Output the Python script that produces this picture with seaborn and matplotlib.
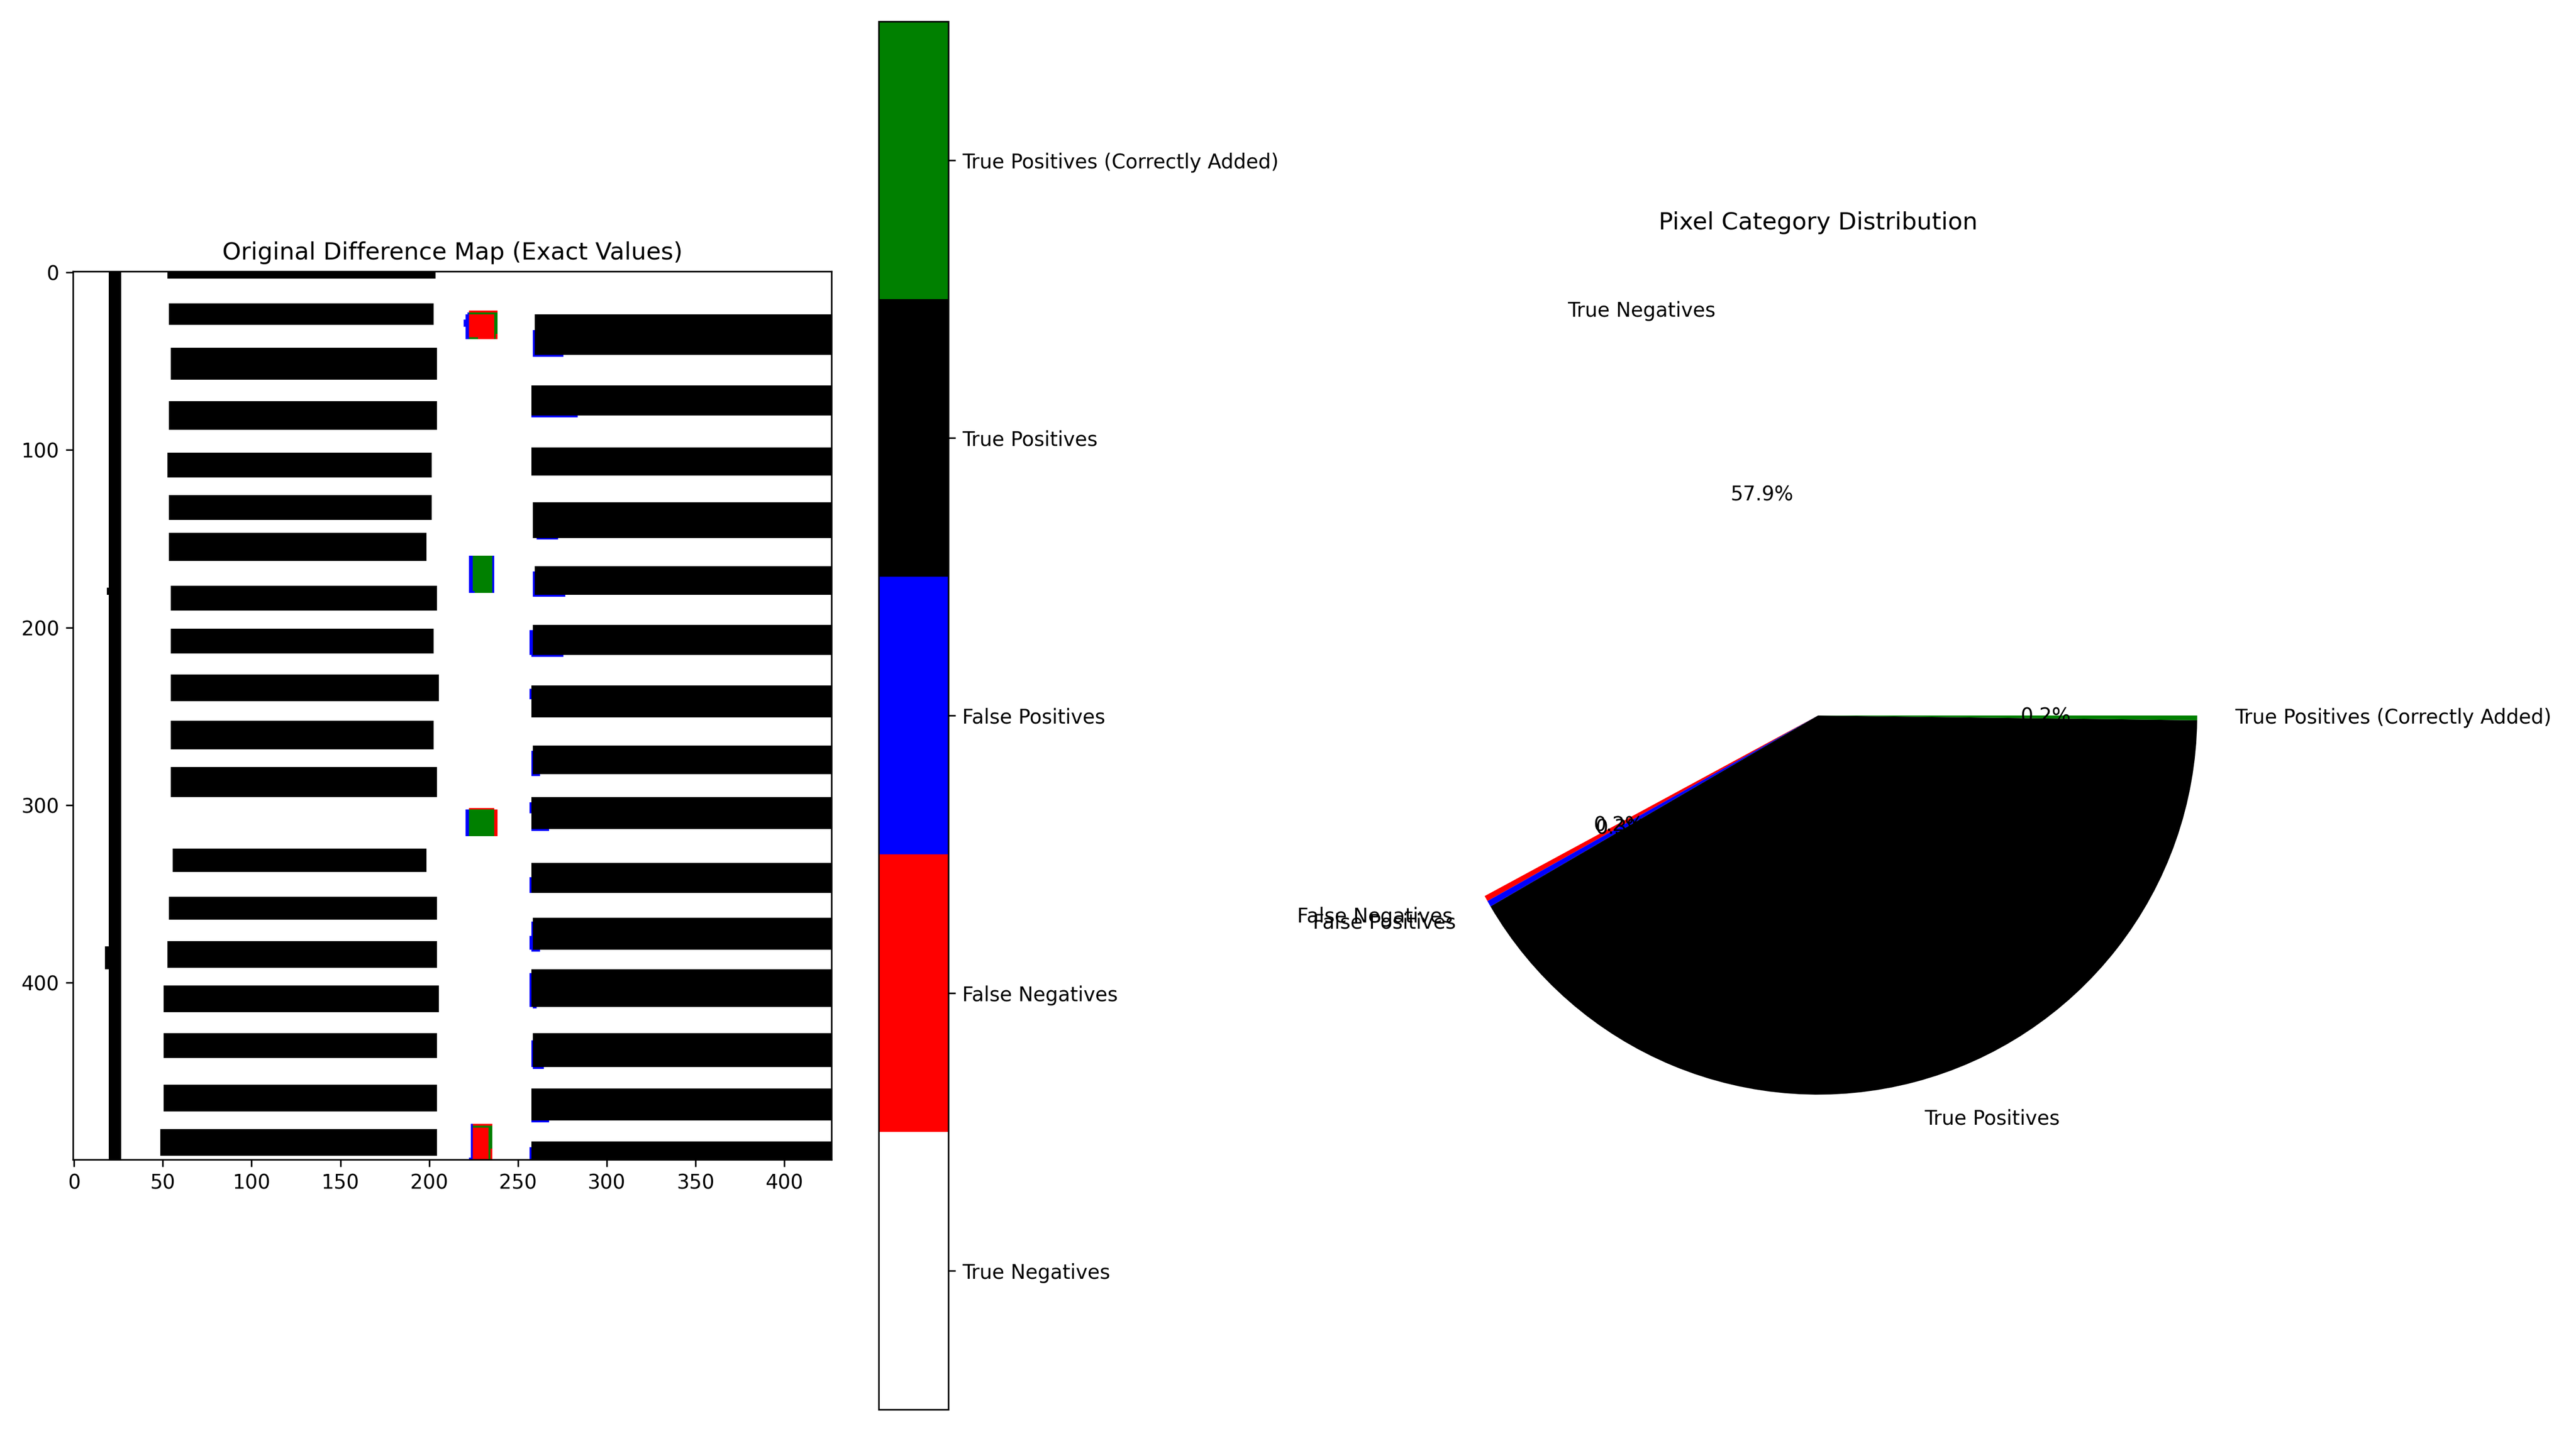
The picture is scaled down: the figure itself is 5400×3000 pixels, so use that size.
import numpy as np
import matplotlib
matplotlib.use("Agg")
import matplotlib.pyplot as plt
import seaborn as sns
from matplotlib.colors import ListedColormap

# ---------------- data ----------------
CATEGORIES = ["True Negatives", "False Negatives", "False Positives",
              "True Positives", "True Positives (Correctly Added)"]
COLORS = ["white", "red", "blue", "black", "green"]
PIE_PERCENT = [57.9, 0.24, 0.26, 41.4, 0.2]

MAP_ROWS, MAP_COLS = 500, 427
X_TICKS = [0, 50, 100, 150, 200, 250, 300, 350, 400]
Y_TICKS = [0, 100, 200, 300, 400]

# True positive regions (row0, row1, col0, col1)
LEFT_LINE = [(0, 500, 20, 27), (178, 182, 19, 20), (380, 393, 18, 20)]
LEFT_BARS = [(0, 4, 53, 204), (18, 30, 54, 203), (43, 61, 55, 205), (73, 89, 54, 205),
             (102, 116, 53, 202), (126, 140, 54, 202), (147, 163, 54, 199), (177, 191, 55, 205),
             (201, 215, 55, 203), (227, 242, 55, 206), (253, 269, 55, 203), (279, 296, 55, 205),
             (325, 338, 56, 199), (352, 365, 54, 205), (377, 392, 53, 205), (402, 417, 51, 206),
             (429, 443, 51, 205), (458, 473, 51, 205), (483, 498, 49, 205)]
RIGHT_BARS = [(24, 47, 260, 427), (64, 81, 258, 427), (99, 115, 258, 427), (130, 150, 259, 427),
              (166, 182, 260, 427), (199, 216, 259, 427), (233, 251, 258, 427), (267, 283, 259, 427),
              (296, 314, 258, 427), (333, 350, 258, 427), (364, 382, 259, 427), (393, 414, 258, 427),
              (429, 448, 259, 427), (460, 478, 258, 427), (490, 500, 258, 427)]
# False negatives
FN_RECTS = [(22, 38, 223, 239), (302, 303, 223, 237), (303, 318, 237, 239), (480, 500, 225, 236)]
# True positives (correctly added)
TPA_RECTS = [(23, 24, 223, 239), (23, 38, 237, 238), (24, 35, 238, 239), (37, 38, 223, 228),
             (160, 181, 225, 236), (303, 318, 223, 237),
             (481, 482, 225, 236), (482, 500, 234, 235), (482, 494, 235, 236)]
# False positives
FP_RECTS = [(24, 38, 221, 223), (27, 31, 220, 221), (23, 24, 222, 223),
            (160, 181, 223, 225), (160, 181, 236, 237), (180, 181, 225, 226),
            (303, 318, 221, 223), (480, 500, 224, 225), (499, 500, 223, 224),
            (33, 48, 259, 260), (47, 48, 259, 276), (81, 82, 258, 284), (150, 151, 261, 273),
            (169, 183, 259, 260), (182, 183, 259, 277), (202, 216, 257, 259), (216, 217, 258, 276),
            (235, 241, 257, 258), (270, 284, 258, 259), (283, 284, 259, 263),
            (299, 305, 257, 258), (314, 315, 258, 268), (341, 350, 257, 258),
            (366, 382, 258, 259), (374, 382, 257, 258), (382, 383, 258, 263),
            (395, 414, 257, 258), (414, 415, 259, 261), (433, 448, 258, 259), (448, 449, 259, 265),
            (478, 479, 258, 268), (493, 500, 257, 258)]

# ---------------- build map ----------------
diff_map = np.zeros((MAP_ROWS, MAP_COLS), dtype=int)


def paint(rects, value):
    for r0, r1, c0, c1 in rects:
        diff_map[r0:r1, c0:c1] = value


paint(LEFT_LINE, 3)
paint(LEFT_BARS, 3)
paint(RIGHT_BARS, 3)
paint(FN_RECTS, 1)
paint(TPA_RECTS, 4)
paint(FP_RECTS, 2)

# ---------------- plot ----------------
fig, axes = plt.subplots(1, 2, figsize=(18, 10))
cmap = ListedColormap(COLORS)

ax = axes[0]
sns.heatmap(diff_map, ax=ax, cmap=cmap, vmin=-0.5, vmax=4.5, square=True,
            xticklabels=False, yticklabels=False,
            cbar_kws={"ticks": list(range(len(CATEGORIES)))})
for s in ax.spines.values():
    s.set_visible(True)
    s.set_linewidth(0.8)
    s.set_color("black")
ax.set_xticks([t + 0.5 for t in X_TICKS])
ax.set_xticklabels([str(t) for t in X_TICKS], rotation=0)
ax.set_yticks([t + 0.5 for t in Y_TICKS])
ax.set_yticklabels([str(t) for t in Y_TICKS], rotation=0)
ax.tick_params(length=3.5, width=0.8, labelsize=10)
ax.set_title("Original Difference Map (Exact Values)", fontsize=12)

cbar = ax.collections[0].colorbar
cbar.set_ticklabels(CATEGORIES)
cbar.outline.set_visible(True)
cbar.outline.set_linewidth(0.8)
cbar.outline.set_edgecolor("black")
cbar.ax.tick_params(labelsize=10, length=3.5, width=0.8)

ax2 = axes[1]
ax2.pie(PIE_PERCENT, labels=CATEGORIES, colors=COLORS, autopct="%1.1f%%")
ax2.set_title("Pixel Category Distribution", fontsize=12)

plt.tight_layout()
fig.savefig("out.png", dpi=300)
